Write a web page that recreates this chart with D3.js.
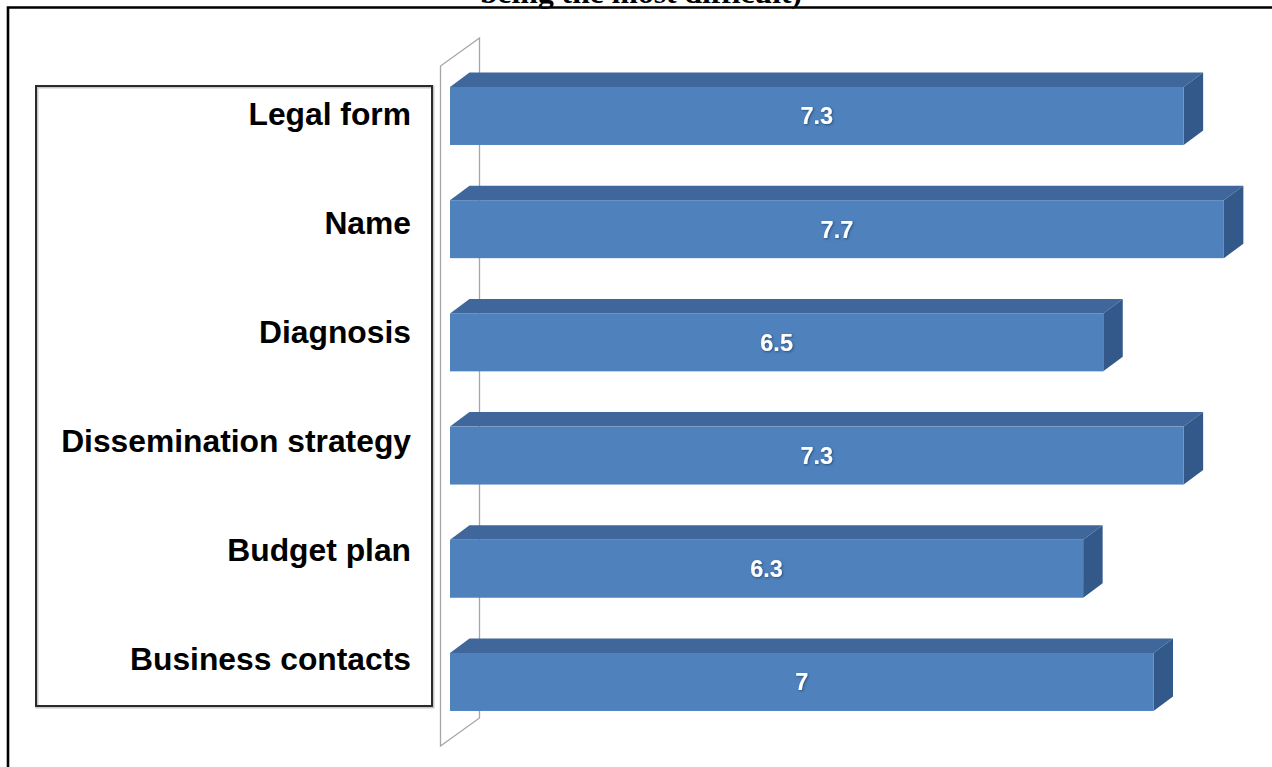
<!DOCTYPE html>
<html>
<head>
<meta charset="utf-8">
<script src="https://cdn.jsdelivr.net/npm/d3@7"></script>
<style>
  html, body { margin: 0; padding: 0; background: #fff; }
  svg { display: block; }
</style>
</head>
<body>
<svg id="chart" width="1272" height="767"></svg>
<script>
// Average difficulty per business-plan section
const categories = ["Legal form", "Name", "Diagnosis", "Dissemination strategy", "Budget plan", "Business contacts"];
const values = [7.3, 7.7, 6.5, 7.3, 6.3, 7];
const valueLabels = ["7.3", "7.7", "6.5", "7.3", "6.3", "7"];
const titleTail = "being the most difficult)";

const svg = d3.select("#chart");
const W = 1272, H = 767;

// 3D extrusion of the bars and of the back wall
const depth = { dx: 19.5, dy: -14.5 };
const wallDepth = { dx: 39, dy: -28 };

const x = d3.scaleLinear().domain([0, 8]).range([450, 1254]);
const y = d3.scaleBand().domain(categories).range([87, 87 + 6 * 113.2]).padding(0);
const barH = y.step() * 0.512;
const labelY = d3.scalePoint().domain(categories).range([113, 658]);

const colFront = "#4f81bd", colTop = "#3f679b", colSide = "#33598a";

// shadow filter for the value labels
const defs = svg.append("defs");
const f = defs.append("filter").attr("id", "txtShadow").attr("x", "-20%").attr("y", "-20%").attr("width", "140%").attr("height", "140%");
f.append("feDropShadow").attr("dx", 1).attr("dy", 1).attr("stdDeviation", 0.8)
  .attr("flood-color", "#1f3a5f").attr("flood-opacity", 0.7);

// Title line (only its last line falls inside the frame)
svg.append("text")
  .attr("x", 641).attr("y", 2.5)
  .attr("text-anchor", "middle")
  .attr("font-family", "'Liberation Serif', 'Times New Roman', serif")
  .attr("font-weight", "bold")
  .attr("font-size", 29)
  .attr("textLength", 322)
  .attr("lengthAdjust", "spacingAndGlyphs")
  .attr("fill", "#000")
  .text(titleTail);

// Outer frame
svg.append("path")
  .attr("d", `M8,${H + 2} L8,7.5 L${W + 2},7.5`)
  .attr("fill", "none").attr("stroke", "#000").attr("stroke-width", 2.6);

// Category label box
svg.append("rect")
  .attr("x", 36).attr("y", 86).attr("width", 396).attr("height", 620)
  .attr("fill", "none").attr("stroke", "#c8c8c8").attr("stroke-width", 3)
  .attr("transform", "translate(1,1)");
svg.append("rect")
  .attr("x", 36).attr("y", 86).attr("width", 396).attr("height", 620)
  .attr("fill", "none").attr("stroke", "#2a2a2a").attr("stroke-width", 2);

// Back wall (thin 3D plane at the value axis origin)
const wallX = 440.5, wallTop = 66, wallBottom = 746;
svg.append("path")
  .attr("d", `M${wallX},${wallBottom} L${wallX},${wallTop} L${wallX + wallDepth.dx},${wallTop + wallDepth.dy} ` +
             `L${wallX + wallDepth.dx},${wallBottom + wallDepth.dy} Z`)
  .attr("fill", "#fff").attr("stroke", "#a6a6a6").attr("stroke-width", 1.3);

// Category labels
svg.append("g").selectAll("text").data(categories).join("text")
  .attr("x", 411)
  .attr("y", d => labelY(d) + 11.5)
  .attr("text-anchor", "end")
  .attr("font-family", "'Liberation Sans', Arial, sans-serif")
  .attr("font-weight", "bold")
  .attr("font-size", 31.8)
  .attr("fill", "#000")
  .text(d => d);

// 3D bars
const bars = svg.append("g").selectAll("g").data(categories.map((c, i) => ({ c, v: values[i], lab: valueLabels[i] })))
  .join("g");

bars.each(function (d) {
  const g = d3.select(this);
  const x0 = x(0), x1 = x(d.v), y0 = y(d.c), y1 = y0 + barH;
  // top face
  g.append("path")
    .attr("d", `M${x0},${y0} L${x0 + depth.dx},${y0 + depth.dy} L${x1 + depth.dx},${y0 + depth.dy} L${x1},${y0} Z`)
    .attr("fill", colTop);
  // side face
  g.append("path")
    .attr("d", `M${x1},${y0} L${x1 + depth.dx},${y0 + depth.dy} L${x1 + depth.dx},${y1 + depth.dy} L${x1},${y1} Z`)
    .attr("fill", colSide);
  // front face
  g.append("rect")
    .attr("x", x0).attr("y", y0).attr("width", x1 - x0).attr("height", barH)
    .attr("fill", colFront);
  // value label
  g.append("text")
    .attr("x", (x0 + x1) / 2)
    .attr("y", y0 + barH / 2 + 8.5)
    .attr("text-anchor", "middle")
    .attr("font-family", "'Liberation Sans', Arial, sans-serif")
    .attr("font-weight", "bold")
    .attr("font-size", 23.5)
    .attr("fill", "#fff")
    .attr("filter", "url(#txtShadow)")
    .text(d.lab);
});
</script>
</body>
</html>
